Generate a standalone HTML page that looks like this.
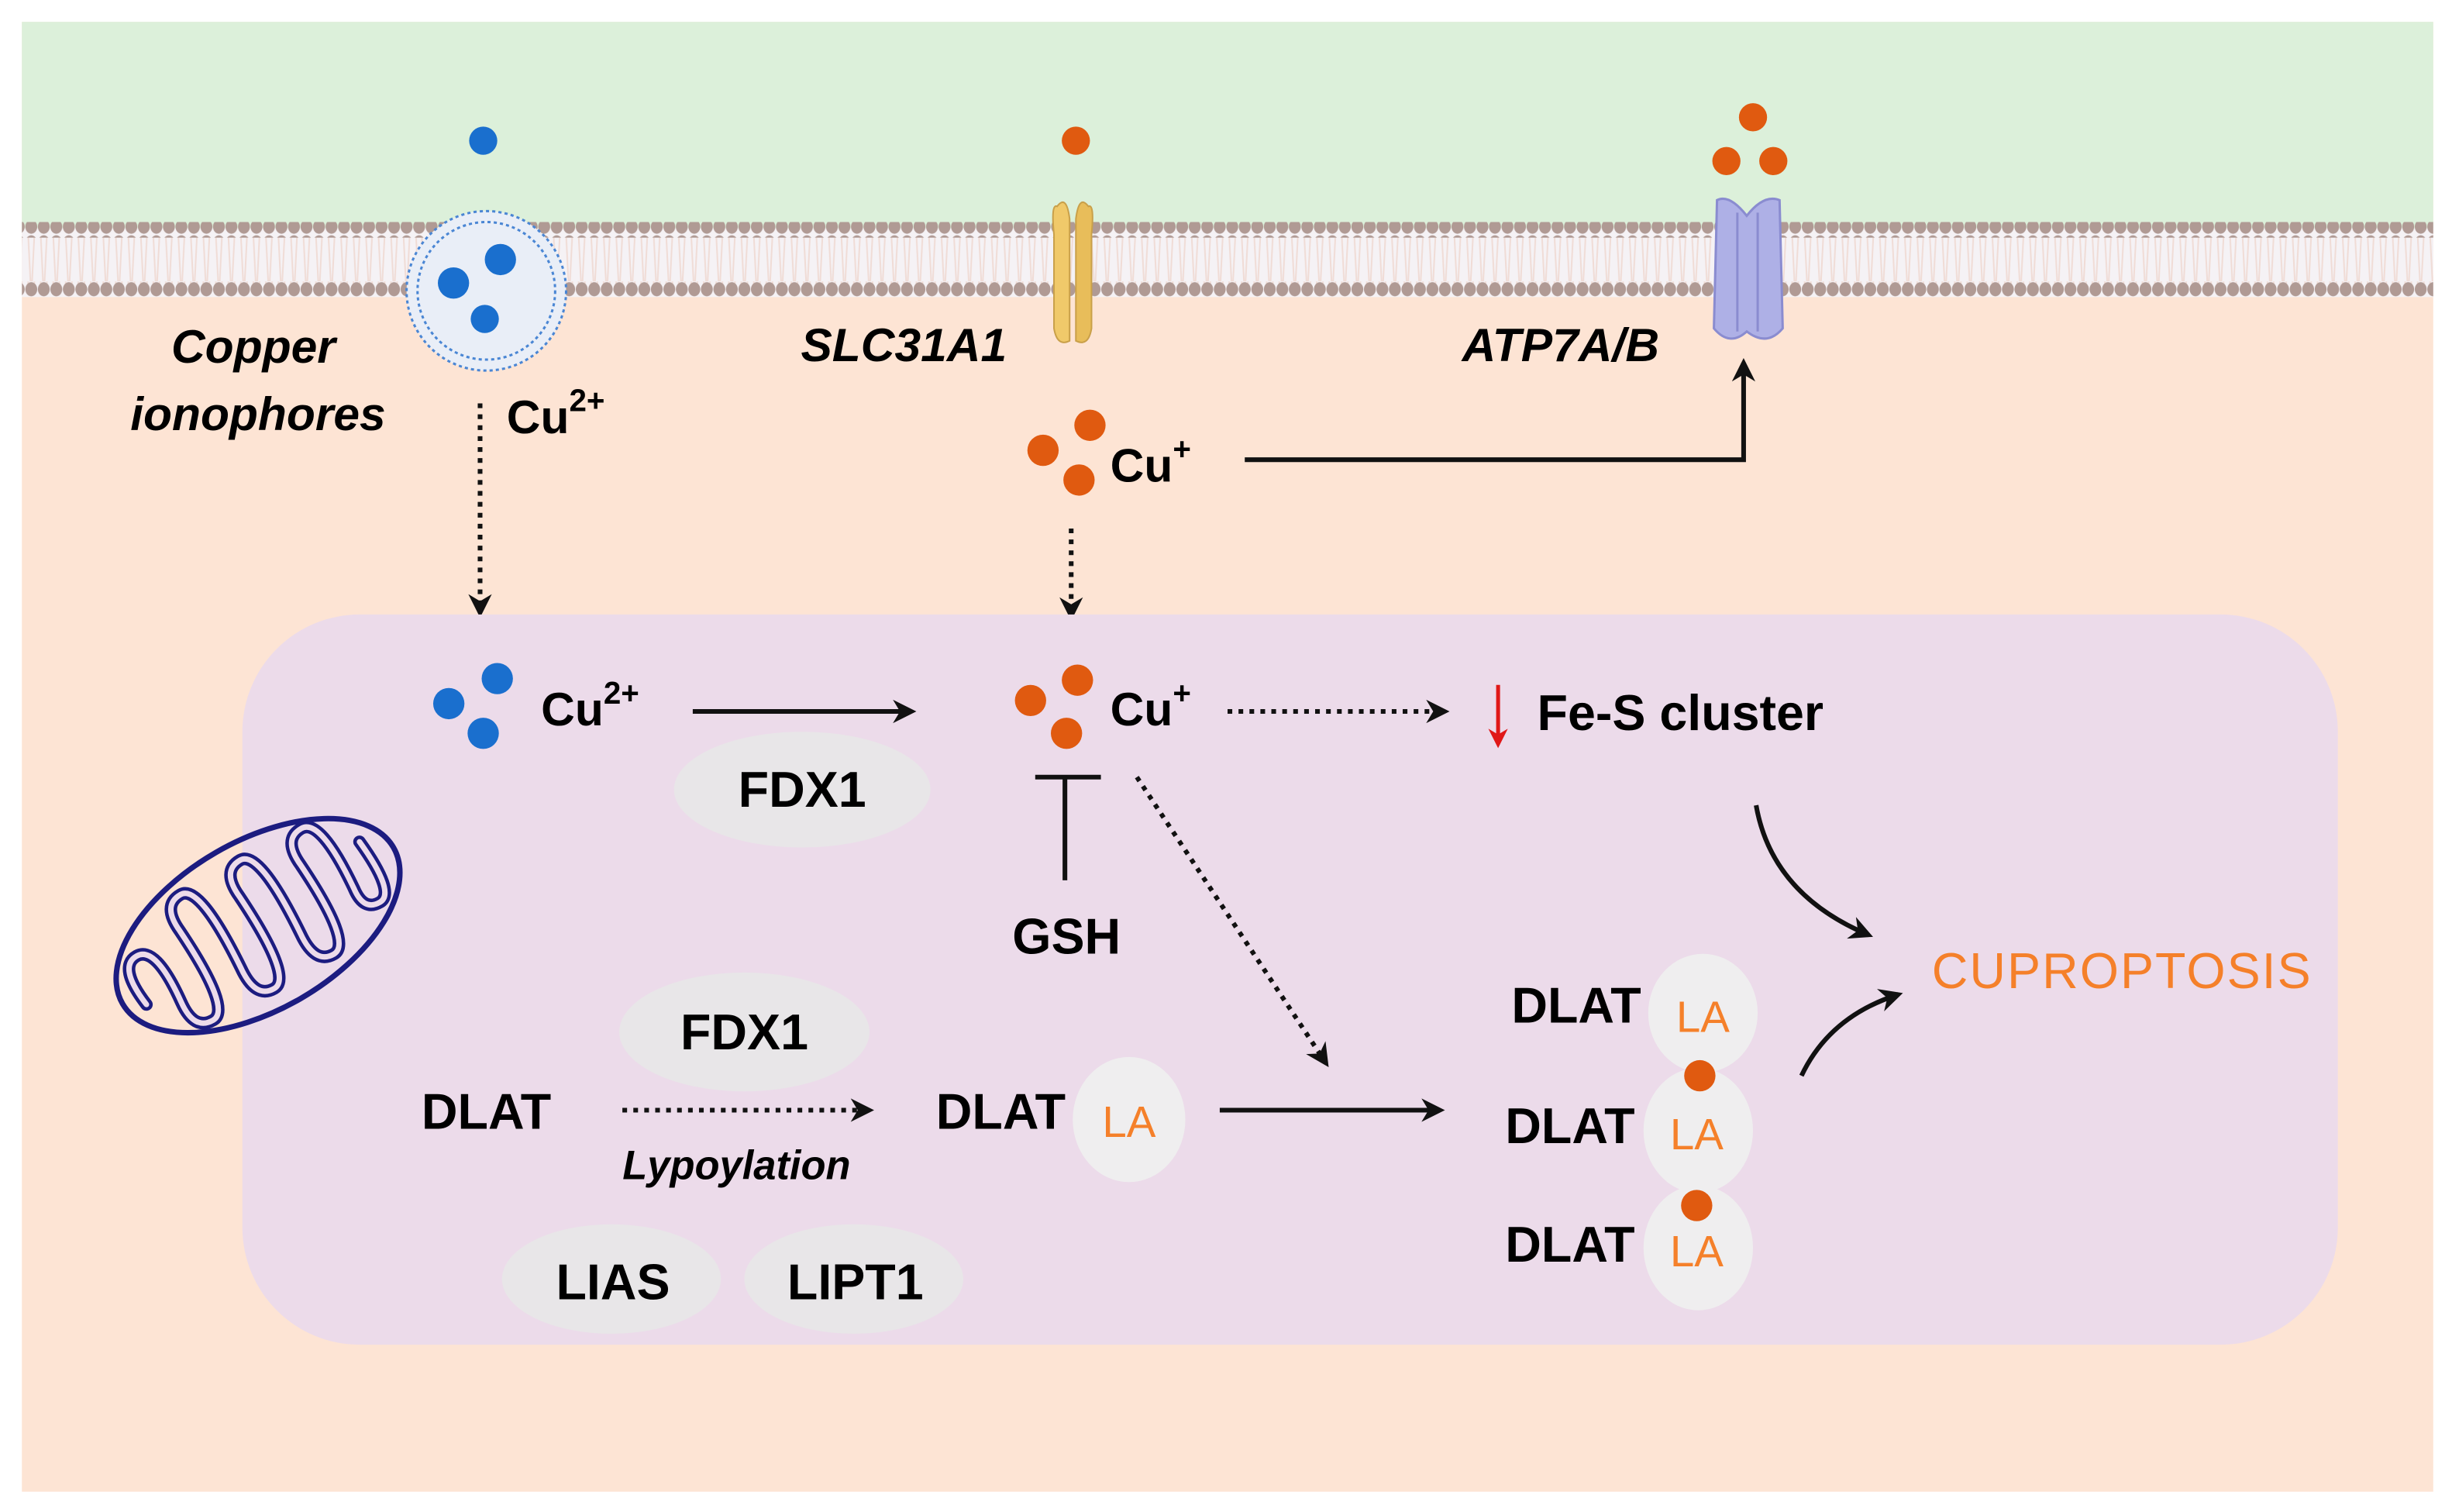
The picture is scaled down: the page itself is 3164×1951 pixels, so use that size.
<!DOCTYPE html>
<html><head><meta charset="utf-8"><style>
html,body{margin:0;padding:0;background:#fff;width:3164px;height:1951px;overflow:hidden}
svg{display:block}
text{font-family:"Liberation Sans",Arial,sans-serif;font-weight:bold}
</style></head><body>
<svg width="3164" height="1951" viewBox="0 0 1568 967" preserveAspectRatio="none" xmlns="http://www.w3.org/2000/svg">
<defs>
<marker id="ah" viewBox="0 0 10 10" refX="8" refY="5" markerWidth="5" markerHeight="5" orient="auto"><path d="M0,0 L10,5 L0,10 L3,5 z" fill="#111"/></marker>
<marker id="ahr" viewBox="0 0 10 10" refX="8" refY="5" markerWidth="5" markerHeight="5" orient="auto"><path d="M0,0 L10,5 L0,10 L3,5 z" fill="#e01818"/></marker>
<pattern id="beads" width="8" height="10" patternUnits="userSpaceOnUse"><ellipse cx="4" cy="5" rx="3.8" ry="4.5" fill="#b09a94"/></pattern>
<pattern id="tails" width="8" height="30" patternUnits="userSpaceOnUse"><path d="M2,0 L3.5,30 M6,0 L4.5,30" stroke="#f0dcd6" stroke-width="1"/></pattern>
</defs>
<rect x="0" y="0" width="1568" height="967" fill="#fff"/>
<rect x="14" y="14" width="1542" height="940" fill="#fde4d4"/>
<rect x="14" y="14" width="1542" height="132" fill="#dcf0da"/>
<rect x="14" y="146" width="1542" height="44" fill="#f5f2f5"/>
<rect x="14" y="152" width="1542" height="30" fill="url(#tails)"/>
<rect x="14" y="142" width="1542" height="10" fill="url(#beads)"/>
<rect x="14" y="180" width="1542" height="10" fill="url(#beads)"/>
<circle cx="311" cy="186" r="51" fill="#e9eef7" stroke="#4a86d4" stroke-width="1.5" stroke-dasharray="2 2"/>
<circle cx="311" cy="186" r="44" fill="none" stroke="#4a86d4" stroke-width="1.5" stroke-dasharray="2 2"/>
<circle cx="320" cy="166" r="10" fill="#1a6fce"/><circle cx="290" cy="181" r="10" fill="#1a6fce"/><circle cx="310" cy="204" r="9" fill="#1a6fce"/>
<circle cx="309" cy="90" r="9" fill="#1a6fce"/>
<path d="M676,132 Q672,130 674,150 L674,210 Q676,222 684,218 L684,140 Q682,124 676,132z" fill="#f0c96a" stroke="#c9a04a" stroke-width="1"/>
<path d="M696,132 Q700,130 698,150 L698,210 Q696,222 688,218 L688,140 Q690,124 696,132z" fill="#e8bd5a" stroke="#c9a04a" stroke-width="1"/>
<circle cx="688" cy="90" r="9" fill="#e05a10"/>
<path d="M1098,128 Q1106,124 1117,138 Q1128,124 1138,128 L1140,210 Q1130,222 1117,212 Q1106,222 1096,210 z" fill="#aeb0e6" stroke="#8a8cd0" stroke-width="1.5"/>
<path d="M1111,136 L1111,212 M1124,136 L1124,212" stroke="#8a8cd0" stroke-width="1.5"/>
<circle cx="1121" cy="75" r="9" fill="#e05a10"/><circle cx="1104" cy="103" r="9" fill="#e05a10"/><circle cx="1134" cy="103" r="9" fill="#e05a10"/>
<text x="162" y="232" font-size="30" font-style="italic" text-anchor="middle">Copper</text>
<text x="165" y="275" font-size="30" font-style="italic" text-anchor="middle">ionophores</text>
<text x="324" y="277" font-size="30">Cu<tspan font-size="20" dy="-14">2+</tspan></text>
<text x="578" y="231" font-size="30" font-style="italic" text-anchor="middle">SLC31A1</text>
<text x="998" y="231" font-size="30" font-style="italic" text-anchor="middle">ATP7A/B</text>
<circle cx="697" cy="272" r="10" fill="#e05a10"/><circle cx="667" cy="288" r="10" fill="#e05a10"/><circle cx="690" cy="307" r="10" fill="#e05a10"/>
<text x="710" y="308" font-size="30">Cu<tspan font-size="20" dy="-14">+</tspan></text>
<path d="M796,294 L1115,294 L1115,232" fill="none" stroke="#111" stroke-width="3" marker-end="url(#ah)"/>
<line x1="307" y1="258" x2="307" y2="392" stroke="#111" stroke-width="3" stroke-dasharray="3 4" marker-end="url(#ah)"/>
<line x1="685" y1="338" x2="685" y2="394" stroke="#111" stroke-width="3" stroke-dasharray="3 4" marker-end="url(#ah)"/>
<rect x="155" y="393" width="1340" height="467" rx="75" fill="#ecdbea"/>
<g transform="rotate(-30 165 592)">
<ellipse cx="165" cy="592" rx="100" ry="54" fill="none" stroke="#1c1c80" stroke-width="3.5"/>
<path d="M78,600 q-4,-30 10,-30 q14,0 10,40 q-2,20 12,20 q14,0 10,-60 q-2,-20 12,-20 q14,0 10,60 q-2,22 12,22 q14,0 10,-62 q-2,-20 12,-20 q14,0 10,60 q-2,22 12,22 q14,0 10,-60 q-2,-20 12,-20 q14,0 10,50 q-2,16 10,16 q12,0 8,-40" fill="none" stroke="#1c1c80" stroke-width="8" stroke-linecap="round"/>
<path d="M78,600 q-4,-30 10,-30 q14,0 10,40 q-2,20 12,20 q14,0 10,-60 q-2,-20 12,-20 q14,0 10,60 q-2,22 12,22 q14,0 10,-62 q-2,-20 12,-20 q14,0 10,60 q-2,22 12,22 q14,0 10,-60 q-2,-20 12,-20 q14,0 10,50 q-2,16 10,16 q12,0 8,-40" fill="none" stroke="#ecdbea" stroke-width="3.5" stroke-linecap="round"/>
</g>
<circle cx="318" cy="434" r="10" fill="#1a6fce"/><circle cx="287" cy="450" r="10" fill="#1a6fce"/><circle cx="309" cy="469" r="10" fill="#1a6fce"/>
<text x="346" y="464" font-size="30">Cu<tspan font-size="20" dy="-14">2+</tspan></text>
<line x1="443" y1="455" x2="583" y2="455" stroke="#111" stroke-width="3" marker-end="url(#ah)"/>
<ellipse cx="513" cy="505" rx="82" ry="37" fill="#e8e6e8"/>
<text x="513" y="516" font-size="32" text-anchor="middle">FDX1</text>
<circle cx="689" cy="435" r="10" fill="#e05a10"/><circle cx="659" cy="448" r="10" fill="#e05a10"/><circle cx="682" cy="469" r="10" fill="#e05a10"/>
<text x="710" y="464" font-size="30">Cu<tspan font-size="20" dy="-14">+</tspan></text>
<line x1="785" y1="455" x2="924" y2="455" stroke="#111" stroke-width="3" stroke-dasharray="3 4" marker-end="url(#ah)"/>
<line x1="958" y1="438" x2="958" y2="476" stroke="#e01818" stroke-width="2.5" marker-end="url(#ahr)"/>
<text x="983" y="467" font-size="32">Fe-S cluster</text>
<line x1="662" y1="497" x2="704" y2="497" stroke="#111" stroke-width="3"/>
<line x1="681" y1="497" x2="681" y2="563" stroke="#111" stroke-width="3"/>
<text x="682" y="610" font-size="32" text-anchor="middle">GSH</text>
<line x1="727" y1="497" x2="848" y2="680" stroke="#111" stroke-width="3" stroke-dasharray="3 4" marker-end="url(#ah)"/>
<ellipse cx="476" cy="660" rx="80" ry="38" fill="#e8e6e8"/>
<text x="476" y="671" font-size="32" text-anchor="middle">FDX1</text>
<text x="311" y="722" font-size="32" text-anchor="middle">DLAT</text>
<line x1="398" y1="710" x2="556" y2="710" stroke="#111" stroke-width="3" stroke-dasharray="3 4" marker-end="url(#ah)"/>
<text x="471" y="754" font-size="26" font-style="italic" text-anchor="middle">Lypoylation</text>
<text x="640" y="722" font-size="32" text-anchor="middle">DLAT</text>
<ellipse cx="722" cy="716" rx="36" ry="40" fill="#efeeef"/>
<text x="722" y="727" font-size="28" fill="#f5802a" text-anchor="middle" style="font-weight:normal">LA</text>
<ellipse cx="391" cy="818" rx="70" ry="35" fill="#e8e6e8"/>
<text x="392" y="831" font-size="32" text-anchor="middle">LIAS</text>
<ellipse cx="546" cy="818" rx="70" ry="35" fill="#e8e6e8"/>
<text x="547" y="831" font-size="32" text-anchor="middle">LIPT1</text>
<line x1="780" y1="710" x2="921" y2="710" stroke="#111" stroke-width="3" marker-end="url(#ah)"/>
<ellipse cx="1089" cy="648" rx="35" ry="38" fill="#efeeef"/>
<ellipse cx="1086" cy="723" rx="35" ry="40" fill="#efeeef"/>
<ellipse cx="1086" cy="798" rx="35" ry="40" fill="#efeeef"/>
<circle cx="1087" cy="688" r="10" fill="#e05a10"/>
<circle cx="1085" cy="771" r="10" fill="#e05a10"/>
<text x="1008" y="654" font-size="32" text-anchor="middle">DLAT</text>
<text x="1004" y="731" font-size="32" text-anchor="middle">DLAT</text>
<text x="1004" y="807" font-size="32" text-anchor="middle">DLAT</text>
<text x="1089" y="660" font-size="28" fill="#f5802a" text-anchor="middle" style="font-weight:normal">LA</text>
<text x="1085" y="735" font-size="28" fill="#f5802a" text-anchor="middle" style="font-weight:normal">LA</text>
<text x="1085" y="810" font-size="28" fill="#f5802a" text-anchor="middle" style="font-weight:normal">LA</text>
<path d="M1123,515 Q1133,572 1195,598" fill="none" stroke="#111" stroke-width="3" marker-end="url(#ah)"/>
<path d="M1152,688 Q1170,650 1214,636" fill="none" stroke="#111" stroke-width="3" marker-end="url(#ah)"/>
<text x="1357" y="632" font-size="32" fill="#f5802a" text-anchor="middle" style="font-weight:normal;letter-spacing:1px">CUPROPTOSIS</text>
</svg>
</body></html>
